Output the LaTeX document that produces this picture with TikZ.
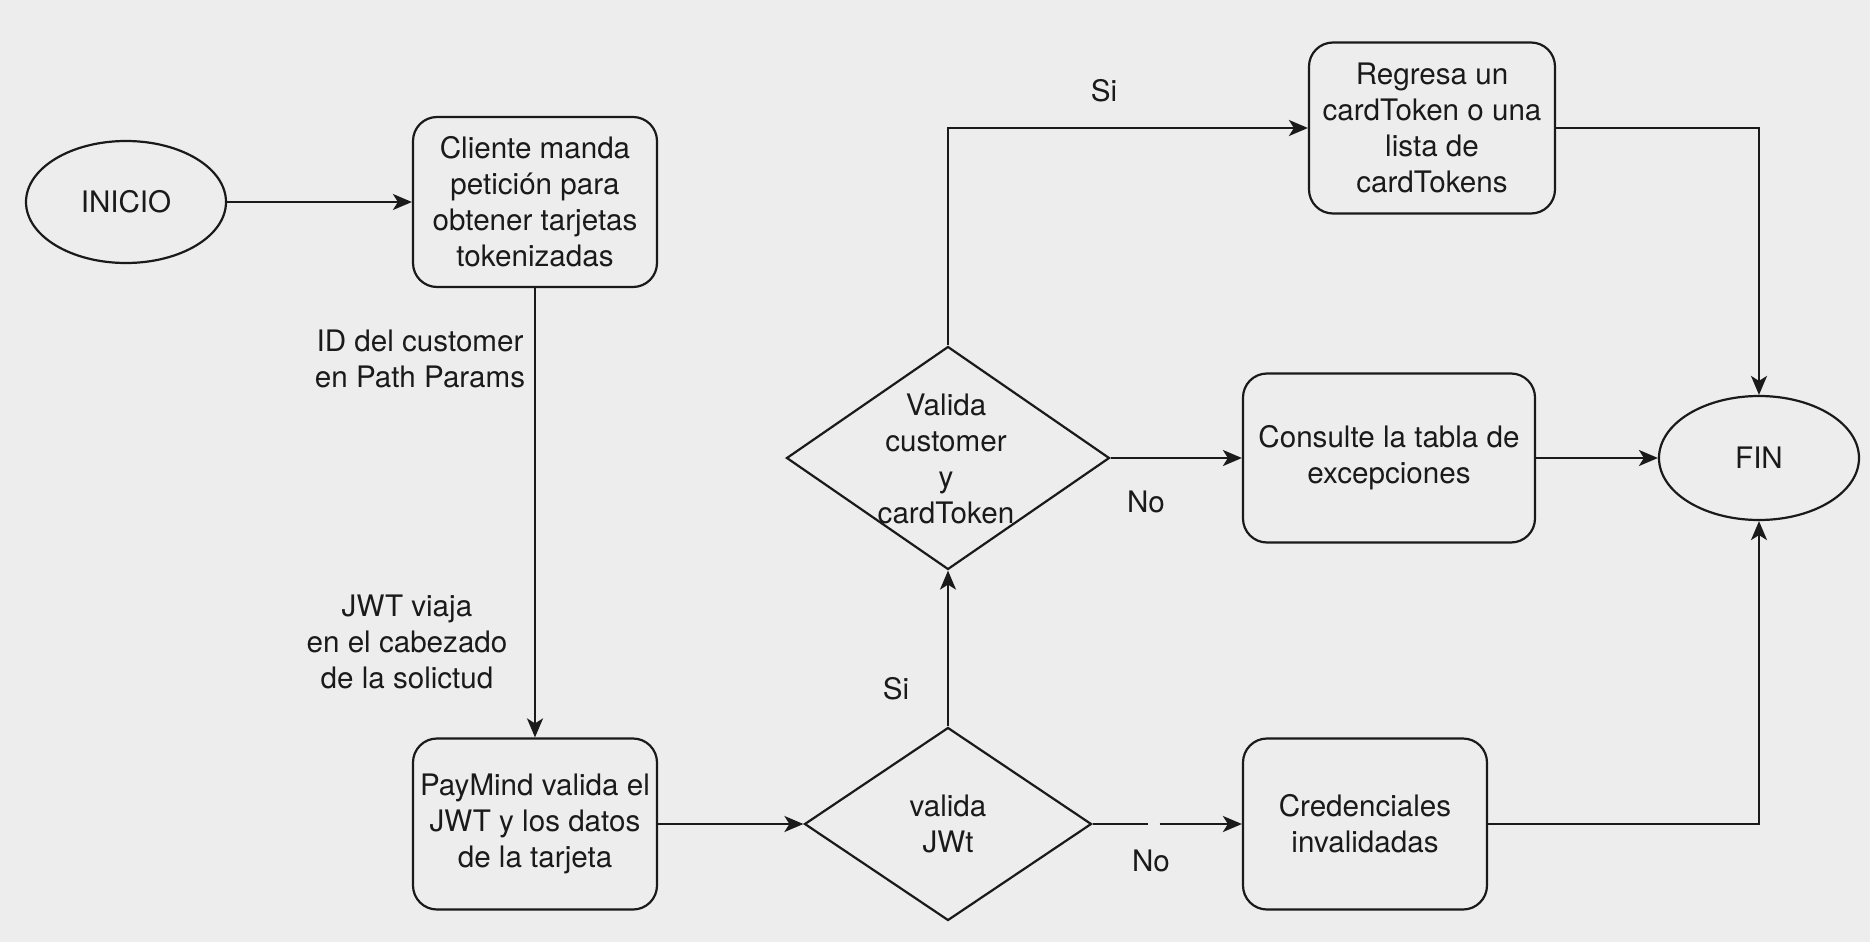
\documentclass[tikz,border=0pt]{standalone}
\usepackage{fontspec}
\setmainfont{TeX Gyre Heros}
\usetikzlibrary{shapes.geometric,arrows.meta}
\definecolor{bg}{RGB}{237,237,237}
\definecolor{ink}{RGB}{26,26,26}
\begin{document}
\begin{tikzpicture}[x=0.5pt,y=-0.5pt,
  every node/.style={text=ink, font=\fontsize{14.8}{18}\selectfont, align=center},
  box/.style={draw=ink, line width=1.1pt, rounded corners=12pt, inner sep=1pt},
  term/.style={draw=ink, line width=1.1pt, ellipse, inner sep=0pt, minimum width=100pt, minimum height=61pt},
  decision/.style={draw=ink, line width=1.1pt, diamond, inner sep=0pt},
  lbl/.style={inner sep=0pt},
  arr/.style={draw=ink, line width=1.1pt, -{Stealth[length=9.5pt,width=8pt,inset=2.5pt]}}
]
\fill[bg] (0,0) rectangle (1870,942);
\useasboundingbox (0,0) rectangle (1870,942);

\node[term] (inicio) at (126,202) {INICIO};
\node[box, minimum width=122pt, minimum height=85pt] (cliente) at (535,202)
  {Cliente manda\\ petición para\\obtener tarjetas\\tokenizadas};
\node[box, minimum width=122pt, minimum height=85.5pt] (paymind) at (535,824)
  {PayMind valida el\\JWT y los datos\\de la tarjeta};
\node[decision, minimum width=143.5pt, minimum height=96.5pt] (djwt) at (948,824) {};
\node[lbl] (djwtt) at (948,824) {valida\\JWt};
\node[decision, minimum width=161.5pt, minimum height=111.5pt] (dcust) at (948,458) {};
\node[lbl] (dcustt) at (946,459) {Valida\\customer\\y\\cardToken};
\node[box, minimum width=123pt, minimum height=85.5pt] (regresa) at (1432,128)
  {Regresa un\\cardToken o una\\lista de\\cardTokens};
\node[box, minimum width=146pt, minimum height=84.5pt] (consulte) at (1389,458)
  {Consulte la tabla de\\excepciones};
\node[box, minimum width=122pt, minimum height=85.5pt] (cred) at (1365,824)
  {Credenciales\\invalidadas};
\node[term, minimum height=62pt] (fin) at (1759,458) {FIN};

\node[lbl] (l1) at (420,359) {ID del customer\\en Path Params};
\node[lbl] (l2) at (407,642) {JWT viaja\\en el cabezado\\de la solictud};
\node[lbl] (l3) at (896,689) {Si};
\node[lbl] (l4) at (1104,91) {Si};
\node[lbl] (l5) at (1146,502) {No};
\node[lbl] (l6) at (1151,861) {No};

\draw[arr] (inicio) -- (cliente);
\draw[arr] (cliente) -- (paymind);
\draw[arr] (paymind) -- (djwt);
\draw[arr] (djwt) -- (dcust);
\draw[arr] (dcust.north) |- (regresa.west);
\draw[arr] (dcust) -- (consulte);
\draw[arr] (consulte) -- (fin);
\draw[arr] (regresa.east) -| (fin.north);
\draw[arr] (cred.east) -| (fin.south);
\draw[arr, dash pattern=on 27.5pt off 6pt on 200pt off 0pt] (djwt.east) -- (cred.west);
\end{tikzpicture}
\end{document}
